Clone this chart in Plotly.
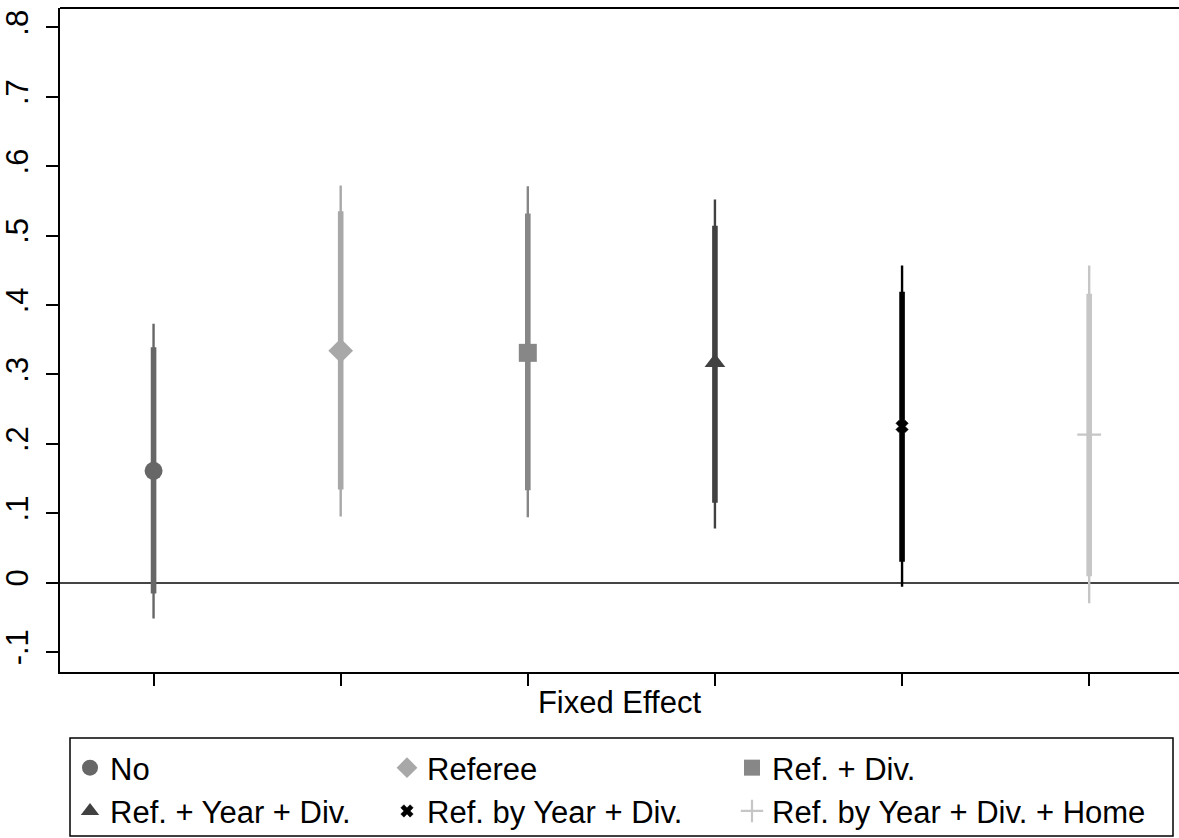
import plotly.graph_objects as go

labels = ["No", "Referee", "Ref. + Div.", "Ref. + Year + Div.",
          "Ref. by Year + Div.", "Ref. by Year + Div. + Home"]
positions = [1, 2, 3, 4, 5, 6]
coef = [0.161, 0.334, 0.331, 0.317, 0.225, 0.213]
ci90_lo = [-0.016, 0.134, 0.133, 0.115, 0.030, 0.009]
ci90_hi = [0.339, 0.535, 0.532, 0.514, 0.419, 0.416]
ci95_lo = [-0.052, 0.095, 0.094, 0.078, -0.006, -0.030]
ci95_hi = [0.373, 0.572, 0.571, 0.552, 0.457, 0.457]

colors = ["#676767", "#a8a8a8", "#878787", "#414141", "#000000", "#c6c6c6"]
symbols = ["circle", "diamond", "square", "triangle-up", "x", "cross-thin"]
sizes = [18, 19, 18, 18, 11, 17]
legends = ["legend", "legend2", "legend3", "legend", "legend2", "legend3"]

ytick_vals = [-0.1, 0, 0.1, 0.2, 0.3, 0.4, 0.5, 0.6, 0.7, 0.8]
ytick_text = ["-.1", "0", ".1", ".2", ".3", ".4", ".5", ".6", ".7", ".8"]

FONT = "Liberation Sans, Arial, Helvetica, sans-serif"
FS = 31

fig = go.Figure()

for i in range(len(labels)):
    # 95% interval (thin)
    fig.add_trace(go.Scatter(
        x=[positions[i], positions[i]], y=[ci95_lo[i], ci95_hi[i]],
        mode="lines", line=dict(color=colors[i], width=2.4),
        showlegend=False, hoverinfo="skip"))
    # 90% interval (thick)
    fig.add_trace(go.Scatter(
        x=[positions[i], positions[i]], y=[ci90_lo[i], ci90_hi[i]],
        mode="lines", line=dict(color=colors[i], width=5.6),
        showlegend=False, hoverinfo="skip"))

for i in range(len(labels)):
    line = dict(width=0)
    if symbols[i] == "cross-thin":
        line = dict(width=2.2, color=colors[i])
    elif symbols[i] == "x":
        line = dict(width=0.5, color=colors[i])
    fig.add_trace(go.Scatter(
        x=[positions[i]], y=[coef[i]], mode="markers", name=labels[i],
        marker=dict(symbol=symbols[i], size=sizes[i], color=colors[i], line=line),
        legend=legends[i], legendgroup=labels[i]))

W, H = 1179, 838
ml, mr, mt, mb = 60, 0, 8, 166
pw, ph = W - ml - mr, H - mt - mb

def px_to_paper_x(px):
    return (px - ml) / pw

def px_to_paper_y(py):
    return (H - mb - py) / ph

leg_common = dict(
    orientation="v", yanchor="top", xanchor="left",
    xref="container", yref="container",
    font=dict(family=FONT, size=FS, color="#000000"),
    bgcolor="rgba(0,0,0,0)", borderwidth=0, tracegroupgap=0,
    itemsizing="trace",
)
leg_top = 1 - 741 / H

fig.update_layout(
    width=W, height=H,
    margin=dict(l=ml, r=mr, t=mt, b=mb, autoexpand=False),
    plot_bgcolor="white", paper_bgcolor="white",
    font=dict(family=FONT, size=FS, color="#000000"),
    xaxis=dict(
        range=[0.5, 6.48], tickvals=positions, ticktext=[""] * 6,
        ticks="outside", ticklen=12, tickwidth=2, tickcolor="#000000",
        showline=True, linecolor="#000000", linewidth=2,
        showgrid=False, zeroline=False, automargin=False,
        title=dict(text="Fixed Effect", font=dict(family=FONT, size=FS), standoff=0),
    ),
    yaxis=dict(
        range=[-0.129, 0.828], tickvals=ytick_vals, ticktext=ytick_text,
        tickangle=-90, ticks="outside", ticklen=12, tickwidth=2, tickcolor="#000000",
        ticklabelstandoff=6,
        showline=True, linecolor="#000000", linewidth=2,
        showgrid=False, zeroline=True, zerolinecolor="#444444", zerolinewidth=2,
        tickfont=dict(family=FONT, size=FS), automargin=False,
    ),
    legend=dict(x=70 / W, y=leg_top, **leg_common),
    legend2=dict(x=387 / W, y=leg_top, **leg_common),
    legend3=dict(x=732 / W, y=leg_top, **leg_common),
    shapes=[
        dict(type="line", xref="paper", yref="paper", x0=0, x1=1, y0=1, y1=1,
             line=dict(color="#000000", width=2)),
        dict(type="rect", xref="paper", yref="paper",
             x0=px_to_paper_x(70), x1=px_to_paper_x(1173),
             y0=px_to_paper_y(836), y1=px_to_paper_y(738),
             line=dict(color="#000000", width=1.5), fillcolor="rgba(0,0,0,0)"),
    ],
    showlegend=True,
)

fig.write_html("out.html",
               config={"displayModeBar": False},
               post_script="document.body.style.margin='0';document.body.style.overflow='hidden';")
